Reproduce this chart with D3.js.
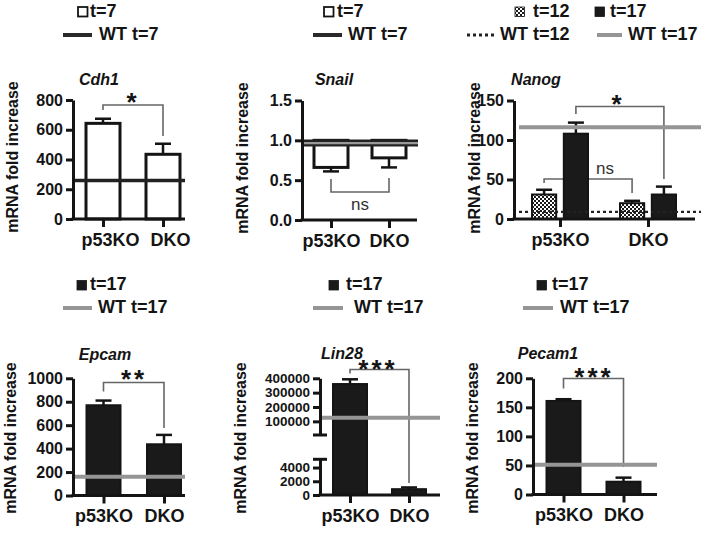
<!DOCTYPE html>
<html><head><meta charset="utf-8">
<script src="https://cdn.jsdelivr.net/npm/d3@7"></script>
<style>
body{margin:0;background:#fff;}
text{font-family:"Liberation Sans",Arial,sans-serif;}
</style></head><body>
<svg id="c" width="709" height="533"></svg>
<script>
// ---------------- DATA ----------------
const groups = ["p53KO", "DKO"];
const series = ["t=12", "t=17"];

const cdh1Values = [643, 435];
const cdh1Errors = [31, 71];
const cdh1WT = 258;
const cdh1Ticks = [0, 200, 400, 600, 800];

const snailValues = [0.66, 0.78];
const snailErrors = [0.05, 0.12];
const snailWT = 0.965;
const snailTicks = [0.0, 0.5, 1.0, 1.5];

const nanogT12 = [31, 20];
const nanogT12Err = [6, 3];
const nanogT17 = [108, 31];
const nanogT17Err = [14, 10];
const nanogWT12 = 9;
const nanogWT17 = 116;
const nanogTicks = [0, 50, 100, 150];

const epcamValues = [770, 437];
const epcamErrors = [40, 80];
const epcamWT = 160;
const epcamTicks = [0, 200, 400, 600, 800, 1000];

const lin28Values = [360000, 850];
const lin28Errors = [33000, 250];
const lin28WT = 125000;
const lin28UpperTicks = [100000, 200000, 300000, 400000];
const lin28LowerTicks = [0, 2000, 4000];

const pecamValues = [161, 22];
const pecamErrors = [3, 7];
const pecamWT = 51;
const pecamTicks = [0, 50, 100, 150, 200];

// ---------------- STYLE ----------------
const INK = "#141414", GREY = "#959595", BRK = "#666";
const svg = d3.select("#c");
const defs = svg.append("defs");
const pat = defs.append("pattern").attr("id", "chk").attr("patternUnits", "userSpaceOnUse")
  .attr("width", 4).attr("height", 4);
pat.append("rect").attr("width", 4).attr("height", 4).attr("fill", "#1a1a1a");
pat.append("rect").attr("x", 0).attr("y", 0).attr("width", 2).attr("height", 2).attr("fill", "#fff");
pat.append("rect").attr("x", 2).attr("y", 2).attr("width", 2).attr("height", 2).attr("fill", "#fff");

function styleAxis(g, fs) {
  g.select(".domain").attr("stroke", INK).attr("stroke-width", 3);
  g.selectAll(".tick line").attr("stroke", INK).attr("stroke-width", 3);
  g.selectAll(".tick text").attr("fill", INK).attr("font-size", fs || 16).attr("font-weight", "bold");
}

function yAxis(scale, ticks, fmt, x, fs) {
  const g = svg.append("g").attr("transform", `translate(${x},0)`)
    .call(d3.axisLeft(scale).tickValues(ticks).tickFormat(fmt).tickSize(7).tickSizeOuter(0).tickPadding(3));
  styleAxis(g, fs);
  return g;
}

function xAxis(xs, y0, x0, x1, dx) {
  svg.append("line").attr("x1", x0 - 1.5).attr("x2", x1).attr("y1", y0).attr("y2", y0)
    .attr("stroke", INK).attr("stroke-width", 3);
  const g = svg.append("g").attr("transform", `translate(0,${y0})`)
    .call(d3.axisBottom(xs).tickSize(8).tickSizeOuter(0).tickPadding(6));
  g.select(".domain").remove();
  g.selectAll(".tick line").attr("stroke", INK).attr("stroke-width", 3);
  g.selectAll(".tick text").attr("fill", INK).attr("font-size", 18).attr("font-weight", "bold")
    .attr("dx", dx || 0);
}

function title(t, x, y) {
  svg.append("text").attr("x", x).attr("y", y).attr("text-anchor", "middle")
    .attr("font-size", 16).attr("font-weight", "bold").attr("font-style", "italic").attr("fill", INK).text(t);
}
function yLabel(x, y) {
  svg.append("text").attr("transform", `translate(${x},${y}) rotate(-90)`)
    .attr("text-anchor", "middle").attr("dominant-baseline", "middle")
    .attr("font-size", 16).attr("font-weight", "bold").attr("fill", INK).text("mRNA fold increase");
}
function refLine(y, x0, x1, color, dash, w) {
  svg.append("line").attr("x1", x0).attr("x2", x1).attr("y1", y).attr("y2", y)
    .attr("stroke", color).attr("stroke-width", w || 4).attr("stroke-dasharray", dash || null);
}
function errBar(cx, yFrom, yTo) {
  svg.append("line").attr("x1", cx).attr("x2", cx).attr("y1", yFrom).attr("y2", yTo)
    .attr("stroke", INK).attr("stroke-width", 2.5);
  svg.append("line").attr("x1", cx - 8).attr("x2", cx + 8).attr("y1", yTo).attr("y2", yTo)
    .attr("stroke", INK).attr("stroke-width", 2.5);
}
function bracket(xa, ya, xb, yb, yTop, label, lx, ly) {
  svg.append("path").attr("d", `M${xa},${ya}V${yTop}H${xb}V${yb}`)
    .attr("fill", "none").attr("stroke", BRK).attr("stroke-width", 1.6);
  svg.append("text").attr("x", lx).attr("y", ly).attr("text-anchor", "middle")
    .attr("font-size", 26).attr("font-weight", "bold")
    .attr("letter-spacing", 3).attr("fill", INK).text(label);
}
function nsText(x, y) {
  svg.append("text").attr("x", x).attr("y", y).attr("text-anchor", "middle")
    .attr("font-size", 17).attr("fill", "#333").text("ns");
}
function legendBox(x, y, fill, text, tx) {
  svg.append("rect").attr("x", x).attr("y", y).attr("width", 9.5).attr("height", 9.5)
    .attr("fill", fill).attr("stroke", INK).attr("stroke-width", fill === "#fff" ? 1.8 : 0.8);
  svg.append("text").attr("x", tx).attr("y", y + 5).attr("dominant-baseline", "middle")
    .attr("font-size", 18).attr("font-weight", "bold").attr("fill", INK).text(text);
}
function legendLine(x0, x1, y, color, dash, text, tx, w) {
  refLine(y, x0, x1, color, dash, w || 4);
  svg.append("text").attr("x", tx).attr("y", y).attr("dominant-baseline", "middle")
    .attr("font-size", 18).attr("font-weight", "bold").attr("fill", INK).text(text);
}

const BW = 34;

// ---------------- Panel 1: Cdh1 ----------------
{
  const y = d3.scaleLinear().domain([0, 800]).range([219, 100]);
  const x = d3.scalePoint().domain(groups).range([103, 163]);
  legendBox(78, 7, "#fff", "t=7", 90);
  legendLine(63, 92, 35, "#2a2a2a", null, "WT t=7", 99);
  title("Cdh1", 99, 85);
  yLabel(14, 157);
  bracket(x("p53KO"), 110, x("DKO"), 136, 105, "*", 133, 111);
  groups.forEach((gname, i) => {
    errBar(x(gname), y(cdh1Values[i]), y(cdh1Values[i] + cdh1Errors[i]));
    svg.append("rect").attr("x", x(gname) - BW / 2).attr("y", y(cdh1Values[i]))
      .attr("width", BW).attr("height", y(0) - y(cdh1Values[i]))
      .attr("fill", "#fff").attr("stroke", INK).attr("stroke-width", 3);
  });
  refLine(y(cdh1WT), 73, 185, "#222", null, 3.5);
  yAxis(y, cdh1Ticks, d3.format("d"), 73);
  xAxis(x, 219, 73, 185, 7);
}

// ---------------- Panel 2: Snail ----------------
{
  const y = d3.scaleLinear().domain([0, 1.5]).range([220, 100.5]);
  const x = d3.scalePoint().domain(groups).range([331, 389]);
  legendBox(324, 7, "#fff", "t=7", 337);
  legendLine(313, 342, 35, "#2a2a2a", null, "WT t=7", 348);
  title("Snail", 334, 85);
  yLabel(244, 158);
  svg.append("path").attr("d", `M${x("p53KO")},179V192H${x("DKO")}V178`)
    .attr("fill", "none").attr("stroke", BRK).attr("stroke-width", 1.6);
  nsText(360, 210);
  groups.forEach((gname, i) => {
    errBar(x(gname), y(snailValues[i]), y(snailValues[i] - snailErrors[i]));
    svg.append("rect").attr("x", x(gname) - BW / 2).attr("y", y(1.0))
      .attr("width", BW).attr("height", y(snailValues[i]) - y(1.0))
      .attr("fill", "#fff").attr("stroke", INK).attr("stroke-width", 3);
  });
  refLine(y(snailWT), 302, 418, "#222", null, 7);
  refLine(y(snailWT), 302, 418, "#9a9a9a", null, 2.2);
  yAxis(y, snailTicks, d3.format(".1f"), 302);
  xAxis(x, 220, 302, 417, 0);
}

// ---------------- Panel 3: Nanog ----------------
{
  const y = d3.scaleLinear().domain([0, 150]).range([219, 100.5]);
  const x = d3.scalePoint().domain(groups).range([560, 648]);
  const xs = d3.scaleBand().domain(series).range([-28, 28]).paddingInner(0.24);
  const bw = xs.bandwidth();
  legendBox(515, 7, "url(#chk)", "t=12", 533);
  legendBox(595, 7, "#1a1a1a", "t=17", 610);
  legendLine(467, 494, 35, "#222", "3,3", "WT t=12", 500, 3);
  legendLine(597, 622, 35, GREY, null, "WT t=17", 628);
  title("Nanog", 536, 85);
  yLabel(476, 158);
  const cx = (g, s) => x(g) + xs(s) + bw / 2;
  svg.append("path").attr("d", `M${cx("p53KO", "t=12")},183V179H${cx("DKO", "t=12")}V193`)
    .attr("fill", "none").attr("stroke", BRK).attr("stroke-width", 1.6);
  nsText(605, 174);
  bracket(cx("p53KO", "t=17"), 114, cx("DKO", "t=17"), 179, 106.5, "*", 618, 113);
  groups.forEach((gname, i) => {
    errBar(cx(gname, "t=12"), y(nanogT12[i]), y(nanogT12[i] + nanogT12Err[i]));
    svg.append("rect").attr("x", x(gname) + xs("t=12")).attr("y", y(nanogT12[i]))
      .attr("width", bw).attr("height", y(0) - y(nanogT12[i]))
      .attr("fill", "url(#chk)").attr("stroke", INK).attr("stroke-width", 2);
    errBar(cx(gname, "t=17"), y(nanogT17[i]), y(nanogT17[i] + nanogT17Err[i]));
    svg.append("rect").attr("x", x(gname) + xs("t=17")).attr("y", y(nanogT17[i]))
      .attr("width", bw).attr("height", y(0) - y(nanogT17[i]))
      .attr("fill", "#1a1a1a").attr("stroke", INK).attr("stroke-width", 2);
  });
  refLine(y(nanogWT17), 519, 701, GREY, null, 4);
  refLine(y(nanogWT12), 519, 701, "#222", "3,3", 2.2);
  yAxis(y, nanogTicks, d3.format("d"), 514);
  xAxis(x, 219, 514, 695, 0);
}

// ---------------- Panel 4: Epcam ----------------
{
  const y = d3.scaleLinear().domain([0, 1000]).range([495.5, 378.3]);
  const x = d3.scalePoint().domain(groups).range([103.5, 164]);
  legendBox(77, 280.5, "#1a1a1a", "t=17", 90);
  legendLine(63, 92, 308, GREY, null, "WT t=17", 98);
  title("Epcam", 105, 360);
  yLabel(12, 438);
  bracket(x("p53KO"), 391.5, x("DKO"), 428, 382.5, "**", 134, 388);
  groups.forEach((gname, i) => {
    errBar(x(gname), y(epcamValues[i]), y(epcamValues[i] + epcamErrors[i]));
    svg.append("rect").attr("x", x(gname) - BW / 2).attr("y", y(epcamValues[i]))
      .attr("width", BW).attr("height", y(0) - y(epcamValues[i]))
      .attr("fill", "#1a1a1a").attr("stroke", INK).attr("stroke-width", 2);
  });
  refLine(y(epcamWT), 73, 185, GREY, null, 4);
  yAxis(y, epcamTicks, d3.format("d"), 73);
  xAxis(x, 495.5, 73, 185, 0);
}

// ---------------- Panel 5: Lin28 (broken axis) ----------------
{
  const yU = d3.scaleLinear().domain([5000, 400000]).range([435, 378.3]);
  const yL = d3.scaleLinear().domain([0, 5200]).range([495, 459.3]);
  const yv = v => v >= 5000 ? yU(v) : yL(v);
  const x = d3.scalePoint().domain(groups).range([350, 409]);
  legendBox(329, 280.5, "#1a1a1a", "t=17", 346);
  legendLine(313, 343, 308, GREY, null, "WT t=17", 354);
  title("Lin28", 342, 359);
  yLabel(242, 438);
  bracket(x("p53KO"), 373.5, x("DKO"), 483, 369.5, "***", 378, 378);
  groups.forEach((gname, i) => {
    errBar(x(gname), yv(lin28Values[i]), yv(lin28Values[i] + lin28Errors[i]));
    svg.append("rect").attr("x", x(gname) - BW / 2).attr("y", yv(lin28Values[i]))
      .attr("width", BW).attr("height", yL(0) - yv(lin28Values[i]))
      .attr("fill", "#1a1a1a").attr("stroke", INK).attr("stroke-width", 2);
  });
  refLine(yU(lin28WT), 320, 440, GREY, null, 4);
  yAxis(yU, lin28UpperTicks, d3.format("d"), 320, 13.5);
  yAxis(yL, lin28LowerTicks, d3.format("d"), 320, 13.5);
  [yU(5000), yL(5200)].forEach(by => {
    svg.append("line").attr("x1", 313).attr("x2", 327).attr("y1", by).attr("y2", by)
      .attr("stroke", INK).attr("stroke-width", 3);
  });
  xAxis(x, 495, 320, 440, 0);
}

// ---------------- Panel 6: Pecam1 ----------------
{
  const y = d3.scaleLinear().domain([0, 200]).range([494.5, 378.3]);
  const x = d3.scalePoint().domain(groups).range([563.5, 623.5]);
  legendBox(537, 280.5, "#1a1a1a", "t=17", 552);
  legendLine(523, 553, 308, GREY, null, "WT t=17", 560);
  title("Pecam1", 548, 359);
  yLabel(474, 438);
  bracket(x("p53KO"), 388.5, x("DKO"), 467, 378.5, "***", 594, 386);
  groups.forEach((gname, i) => {
    errBar(x(gname), y(pecamValues[i]), y(pecamValues[i] + pecamErrors[i]));
    svg.append("rect").attr("x", x(gname) - BW / 2).attr("y", y(pecamValues[i]))
      .attr("width", BW).attr("height", y(0) - y(pecamValues[i]))
      .attr("fill", "#1a1a1a").attr("stroke", INK).attr("stroke-width", 2);
  });
  refLine(y(pecamWT), 533, 657, GREY, null, 4);
  yAxis(y, pecamTicks, d3.format("d"), 533);
  xAxis(x, 494.5, 533, 657, 0);
}
</script>
</body></html>
